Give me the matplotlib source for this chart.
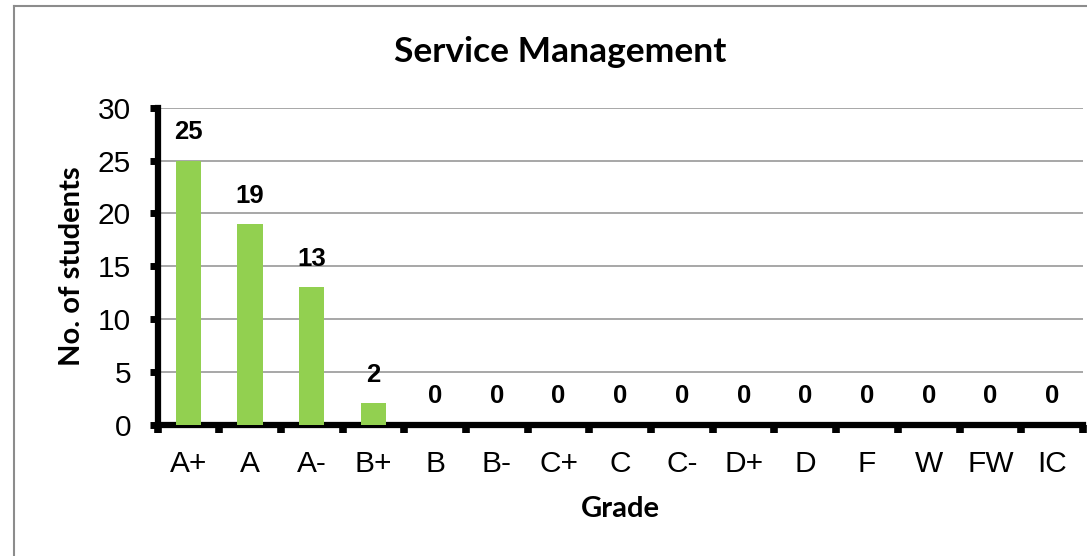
import matplotlib.pyplot as plt
from matplotlib.lines import Line2D
import numpy as np

grades = ['A+', 'A', 'A-', 'B+', 'B', 'B-', 'C+', 'C', 'C-', 'D+', 'D', 'F', 'W', 'FW', 'IC']
students = [25, 19, 13, 2, 0, 0, 0, 0, 0, 0, 0, 0, 0, 0, 0]

fig = plt.figure(figsize=(10.87, 5.56), dpi=100)
ax = fig.add_axes([0.1449, 0.2365, 0.8514, 0.5693])

# outer chart border (only top and left are visible in the crop)
fig.add_artist(Line2D([0.0129, 0.0129], [0.989, -0.1], color='#8c8c8c', lw=1.5))
fig.add_artist(Line2D([0.0129, 1.1], [0.989, 0.989], color='#8c8c8c', lw=1.5))

x = np.arange(len(grades))
ax.bar(x, students, width=0.41, color='#92d050', zorder=3)

for xi, v in zip(x, students):
    ax.annotate(str(v), (xi, v), xytext=(0, 20.5), textcoords='offset points',
                ha='center', va='center', fontsize=18.5, fontweight='bold',
                family='Liberation Sans')

ax.set_xlim(-0.5, len(grades) - 0.5)
ax.set_ylim(0, 30)
ax.set_yticks(range(0, 31, 5))
ax.yaxis.grid(True, color='#a0a0a0', lw=1.3, zorder=0)

ax.set_xticks(x)
ax.set_xticklabels(grades, family='Liberation Sans', fontsize=21.5)
ax.set_xticks(np.arange(-0.5, len(grades)), minor=True)
ax.tick_params(axis='x', which='major', length=0, pad=18)
ax.tick_params(axis='x', which='minor', length=6, width=5.5, direction='out')
ax.tick_params(axis='y', length=6, width=5, direction='out', pad=13)
for lab in ax.get_yticklabels():
    lab.set_family('Liberation Sans')
    lab.set_fontsize(21.5)

for s in ['top', 'right']:
    ax.spines[s].set_visible(False)
for s in ['left', 'bottom']:
    ax.spines[s].set_linewidth(4.5)

# title is centred on the whole chart box, not on the plot area
fig.text(0.515, 0.906, 'Service Management', family='Lato', fontweight='bold',
         fontsize=25.5, ha='center', va='center')
ax.set_ylabel('No. of students', family='Lato', fontweight='bold', fontsize=21, labelpad=9)
ax.set_xlabel('Grade', family='Lato', fontweight='bold', fontsize=21, labelpad=13)

plt.savefig('out.png', dpi=100)
